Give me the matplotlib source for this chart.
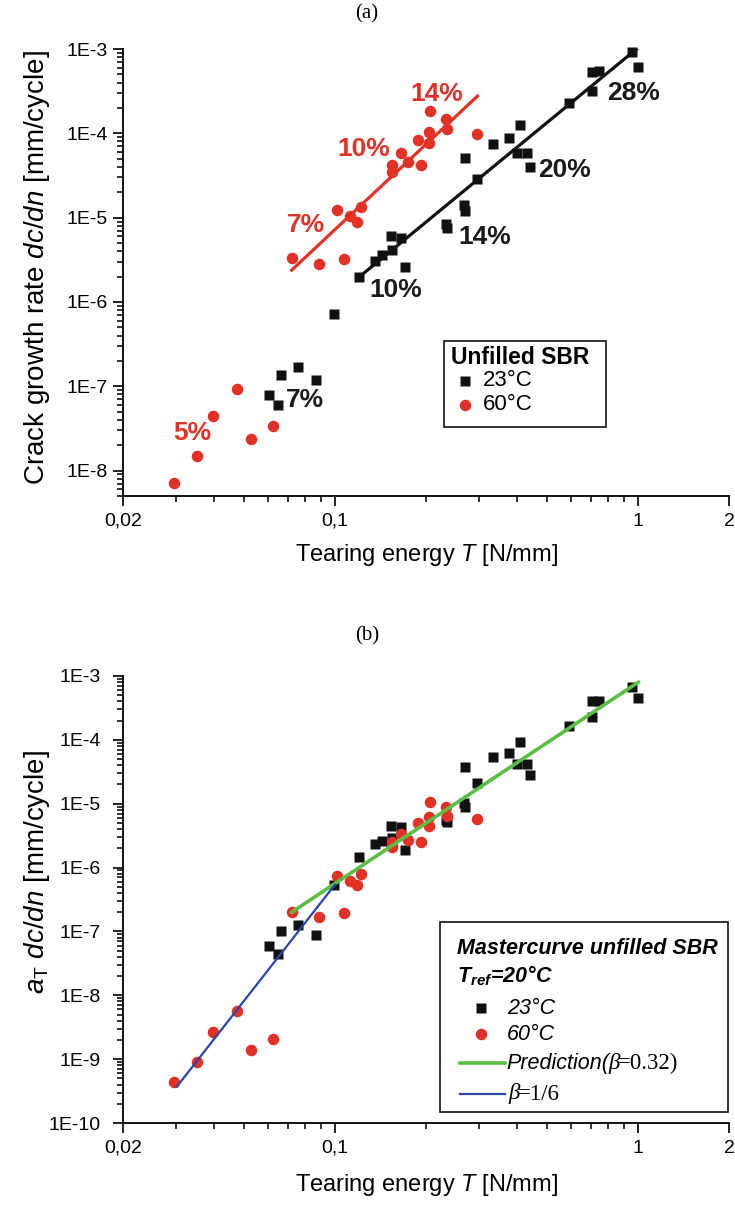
import numpy as np
import matplotlib
matplotlib.use('Agg')
import matplotlib.pyplot as plt
from matplotlib.ticker import FixedLocator, FixedFormatter, NullFormatter
from matplotlib.patches import Rectangle
from matplotlib.lines import Line2D

plt.rcParams['font.family'] = ['Liberation Sans', 'DejaVu Sans']
plt.rcParams['mathtext.fontset'] = 'custom'
plt.rcParams['mathtext.rm'] = 'Liberation Sans'
plt.rcParams['mathtext.it'] = 'Liberation Sans:italic'
plt.rcParams['mathtext.bf'] = 'Liberation Sans:bold:italic'

# ---------------- data ----------------
# Panel (a): 23 degC, black squares
a23_T = [0.959, 1.004, 0.708, 0.745, 0.708, 0.593, 0.409, 0.375, 0.332, 0.270,
         0.400, 0.432, 0.441, 0.294, 0.266, 0.270, 0.233, 0.235, 0.153, 0.165,
         0.155, 0.143, 0.136, 0.170, 0.120, 0.0994, 0.0756, 0.0663, 0.0865,
         0.0606, 0.0648]
a23_r = [9.3e-4, 6.2e-4, 5.4e-4, 5.5e-4, 3.2e-4, 2.3e-4, 1.25e-4, 8.7e-5, 7.4e-5,
         5.1e-5, 5.8e-5, 5.8e-5, 3.95e-5, 2.87e-5, 1.41e-5, 1.21e-5, 8.4e-6,
         7.5e-6, 6.05e-6, 5.8e-6, 4.1e-6, 3.6e-6, 3.1e-6, 2.6e-6, 1.96e-6,
         7.2e-7, 1.7e-7, 1.36e-7, 1.18e-7, 7.9e-8, 6.0e-8]
# Panel (a): 60 degC, red circles
a60_T = [0.206, 0.204, 0.204, 0.188, 0.165, 0.155, 0.154, 0.174, 0.193, 0.102,
         0.112, 0.122, 0.118, 0.0722, 0.0889, 0.107, 0.232, 0.234, 0.294,
         0.0476, 0.0397, 0.0627, 0.0528, 0.0350, 0.0295]
a60_r = [1.84e-4, 1.05e-4, 7.6e-5, 8.3e-5, 5.8e-5, 4.2e-5, 3.5e-5, 4.6e-5, 4.2e-5,
         1.23e-5, 1.05e-5, 1.35e-5, 8.9e-6, 3.3e-6, 2.8e-6, 3.26e-6, 1.47e-4,
         1.12e-4, 9.7e-5, 9.4e-8, 4.5e-8, 3.4e-8, 2.4e-8, 1.5e-8, 7.2e-9]
# Panel (a) fit lines (end points)
fit23_T = [0.120, 1.012]
fit23_r = [1.96e-6, 1.065e-3]
fit60_T = [0.0721, 0.296]
fit60_r = [2.39e-6, 2.77e-4]
# Panel (a) strain labels: (text, T, rate)
labels23 = [("28%", 0.972, 3.0e-4), ("20%", 0.571, 3.7e-5), ("14%", 0.313, 5.9e-6),
            ("10%", 0.159, 1.38e-6), ("7%", 0.0797, 6.9e-8)]
labels60 = [("14%", 0.217, 2.9e-4), ("10%", 0.125, 6.5e-5), ("7%", 0.0804, 8.2e-6),
            ("5%", 0.0338, 2.8e-8)]

# Panel (b): mastercurve, 23 degC
b23_T = [0.955, 0.999, 0.708, 0.745, 0.708, 0.593, 0.409, 0.375, 0.332, 0.270,
         0.400, 0.432, 0.441, 0.294, 0.266, 0.270, 0.233, 0.235, 0.153, 0.165,
         0.155, 0.143, 0.136, 0.170, 0.120, 0.0994, 0.0756, 0.0663, 0.0865,
         0.0606, 0.0648]
b23_r = [6.7e-4, 4.5e-4, 4.0e-4, 4.1e-4, 2.3e-4, 1.66e-4, 9.1e-5, 6.3e-5, 5.3e-5,
         3.7e-5, 4.2e-5, 4.2e-5, 2.8e-5, 2.1e-5, 1.03e-5, 8.8e-6, 5.6e-6, 5.2e-6,
         4.4e-6, 4.3e-6, 2.9e-6, 2.6e-6, 2.3e-6, 1.86e-6, 1.47e-6, 5.3e-7,
         1.24e-7, 1.0e-7, 8.8e-8, 5.9e-8, 4.4e-8]
# Panel (b): 60 degC
b60_T = [0.206, 0.204, 0.204, 0.188, 0.165, 0.154, 0.174, 0.193, 0.155, 0.102,
         0.112, 0.122, 0.118, 0.0722, 0.0889, 0.107, 0.232, 0.234, 0.294,
         0.0476, 0.0397, 0.0350, 0.0295, 0.0528, 0.0627]
b60_r = [1.07e-5, 6.3e-6, 4.5e-6, 5.0e-6, 3.4e-6, 2.1e-6, 2.7e-6, 2.5e-6, 2.5e-6,
         7.3e-7, 6.1e-7, 8.0e-7, 5.3e-7, 2.0e-7, 1.7e-7, 1.96e-7, 8.9e-6, 6.5e-6,
         5.8e-6, 5.7e-9, 2.7e-9, 9.1e-10, 4.4e-10, 1.4e-9, 2.05e-9]
# Panel (b) lines
pred_T = [0.0721, 1.004]
pred_r = [2.0e-7, 8.0e-4]
beta_T = [0.0301, 0.1001]
beta_r = [3.7e-10, 5.4e-7]

x_major = [0.02, 0.1, 1, 2]
x_major_labels = ["0,02", "0,1", "1", "2"]
x_minor = [0.03, 0.04, 0.05, 0.06, 0.07, 0.08, 0.09,
           0.2, 0.3, 0.4, 0.5, 0.6, 0.7, 0.8, 0.9]

RED = '#E23228'
BLK = '#111111'
GRN = '#5CBF45'
BLU = '#2B45A8'

W, H = 735, 1209
fig = plt.figure(figsize=(W / 100, H / 100), dpi=100)


def fx(px):
    return px / W


def fy(py):
    return 1 - py / H


def make_axes(top, bottom, ymin, ylabpad):
    ax = fig.add_axes([fx(123), fy(bottom), fx(729) - fx(123), fy(top) - fy(bottom)])
    ax.set_xscale('log')
    ax.set_yscale('log')
    ax.set_xlim(0.02, 2)
    ax.set_ylim(ymin, 1e-3)
    for s in ['top', 'right']:
        ax.spines[s].set_visible(False)
    for s in ['left', 'bottom']:
        ax.spines[s].set_linewidth(1.4)
        ax.spines[s].set_color('#111111')
    ax.xaxis.set_major_locator(FixedLocator(x_major))
    ax.xaxis.set_major_formatter(FixedFormatter(x_major_labels))
    ax.xaxis.set_minor_locator(FixedLocator(x_minor))
    ax.xaxis.set_minor_formatter(NullFormatter())
    e_lo = int(np.ceil(np.log10(ymin) - 1e-9))
    e_fl = int(np.floor(np.log10(ymin) + 1e-9))
    exps = list(range(e_lo, -2))
    ax.yaxis.set_major_locator(FixedLocator([10.0 ** e for e in exps]))
    ax.yaxis.set_major_formatter(FixedFormatter(["1E%d" % e for e in exps]))
    minors = [m * 10.0 ** e for e in range(e_fl, -3) for m in range(2, 10)]
    ax.yaxis.set_minor_locator(FixedLocator(minors))
    ax.yaxis.set_minor_formatter(NullFormatter())
    ax.tick_params(which='major', length=7, width=1.3, labelsize=14, color='#111111')
    ax.tick_params(which='minor', length=4, width=1.2, color='#111111')
    ax.tick_params(axis='x', which='major', pad=5)
    ax.tick_params(axis='y', which='major', pad=ylabpad)
    return ax


# ---------------- panel (a) ----------------
ax1 = make_axes(49, 496, 5e-9, 4)
ax1.plot(a23_T, a23_r, 's', ms=7.5, color=BLK, mec='none', clip_on=False, zorder=3)
ax1.plot(a60_T, a60_r, 'o', ms=8.3, color=RED, mec='none', clip_on=False, zorder=3)
ax1.plot(fit23_T, fit23_r, '-', color=BLK, lw=2.3, zorder=4)
ax1.plot(fit60_T, fit60_r, '-', color=RED, lw=2.3, zorder=4)
for t, x, y in labels23:
    ax1.text(x, y, t, color='#1a1a1a', fontsize=19, fontweight='bold', ha='center', va='center', zorder=5)
for t, x, y in labels60:
    ax1.text(x, y, t, color=RED, fontsize=19, fontweight='bold', ha='center', va='center', zorder=5)

fig.text(fx(367), fy(14), "(a)", family='Liberation Serif', fontsize=15, ha='center', va='center')
fig.text(fx(426), fy(555), r"Tearing energy $T$ [N/mm]", fontsize=17, ha='center', va='center')
fig.text(fx(37), fy(268), r"Crack growth rate $dc/dn$ [mm/cycle]", fontsize=20,
         rotation=90, ha='center', va='center')

# legend (a)
fig.patches.append(Rectangle((fx(444), fy(427)), fx(606) - fx(444), fy(341) - fy(427),
                             transform=fig.transFigure, fill=False, ec='#111111', lw=1.2))
fig.text(fx(451), fy(357), "Unfilled SBR", fontsize=16.5, fontweight='bold', ha='left', va='center')
fig.lines.append(Line2D([fx(465)], [fy(381)], marker='s', ms=7.5, color=BLK, mec='none',
                        transform=fig.transFigure))
fig.lines.append(Line2D([fx(465)], [fy(405)], marker='o', ms=8.3, color=RED, mec='none',
                        transform=fig.transFigure))
fig.text(fx(483), fy(381), "23°C", fontsize=16, ha='left', va='center')
fig.text(fx(483), fy(405), "60°C", fontsize=16, ha='left', va='center')

# ---------------- panel (b) ----------------
ax2 = make_axes(676, 1123, 1e-10, 9)
ax2.plot(b23_T, b23_r, 's', ms=7.5, color=BLK, mec='none', clip_on=False, zorder=3)
ax2.plot(b60_T, b60_r, 'o', ms=8.3, color=RED, mec='none', clip_on=False, zorder=3)
ax2.plot(pred_T, pred_r, '-', color=GRN, lw=2.6, zorder=4)
ax2.plot(beta_T, beta_r, '-', color=BLU, lw=1.6, zorder=4)

fig.text(fx(367), fy(636), "(b)", family='Liberation Serif', fontsize=15, ha='center', va='center')
fig.text(fx(426), fy(1185), r"Tearing energy $T$ [N/mm]", fontsize=17, ha='center', va='center')
fig.text(fx(37), fy(872), r"$a_\mathrm{T}$ $dc/dn$ [mm/cycle]", fontsize=20,
         rotation=90, ha='center', va='center')

# legend (b)
fig.patches.append(Rectangle((fx(440), fy(1112)), fx(728) - fx(440), fy(922) - fy(1112),
                             transform=fig.transFigure, fill=False, ec='#111111', lw=1.2))
fig.text(fx(457), fy(948), "Mastercurve unfilled SBR", fontsize=15.5, fontweight='bold',
         style='italic', ha='left', va='center')
fig.text(fx(457), fy(976), r"$\mathbf{T_{ref}}$=20°C", fontsize=15.5, fontweight='bold',
         style='italic', ha='left', va='center')
fig.lines.append(Line2D([fx(481)], [fy(1008)], marker='s', ms=7.5, color=BLK, mec='none',
                        transform=fig.transFigure))
fig.lines.append(Line2D([fx(481)], [fy(1034)], marker='o', ms=8.3, color=RED, mec='none',
                        transform=fig.transFigure))
fig.text(fx(507), fy(1008), "23°C", fontsize=15.5, style='italic', ha='left', va='center')
fig.text(fx(507), fy(1034), "60°C", fontsize=15.5, style='italic', ha='left', va='center')
fig.lines.append(Line2D([fx(460), fx(505)], [fy(1063), fy(1063)], color=GRN, lw=2.6,
                        transform=fig.transFigure))
fig.lines.append(Line2D([fx(460), fx(505)], [fy(1094), fy(1094)], color=BLU, lw=1.6,
                        transform=fig.transFigure))
fig.text(fx(506), fy(1063), "Prediction(", fontsize=15.5, style='italic', ha='left', va='center')
fig.text(fx(608), fy(1063), "β", family='Liberation Serif', fontsize=16.5, style='italic',
         ha='left', va='center')
fig.text(fx(618), fy(1063), "=0.32)", family='Liberation Serif', fontsize=16.5,
         ha='left', va='center')
fig.text(fx(508), fy(1094), "β", family='Liberation Serif', fontsize=16.5, style='italic',
         ha='left', va='center')
fig.text(fx(518), fy(1094), "=1/6", family='Liberation Serif', fontsize=16.5,
         ha='left', va='center')

fig.savefig('out.png', dpi=100)
